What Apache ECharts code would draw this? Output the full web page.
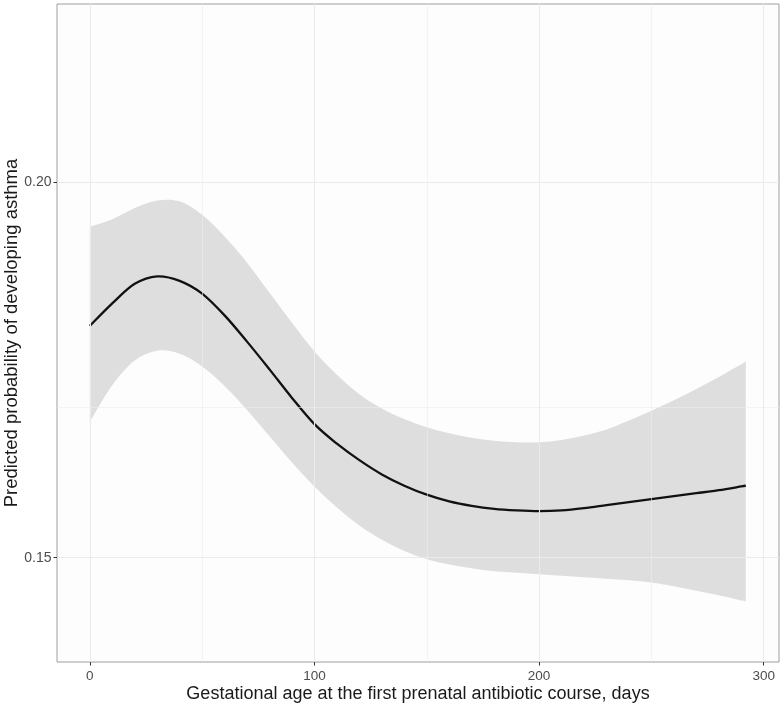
<!DOCTYPE html>
<html>
<head>
<meta charset="utf-8">
<script src="https://cdn.jsdelivr.net/npm/echarts@6/dist/echarts.min.js"></script>
<style>
html,body{margin:0;padding:0;background:#fff;}
#chart{width:784px;height:710px;}
</style>
</head>
<body>
<div id="chart"></div>
<script>
// Gestational age (days)
const xDays = [0,10,20,30,40,50,60,70,80,90,100,110,120,130,140,150,160,170,180,190,200,210,220,230,240,250,260,270,280,290,292];
// Predicted probability (fit)
const fitValues = [0.1809,0.1839,0.1865,0.1875,0.1869,0.1852,0.1823,0.1788,0.1751,0.1713,0.1678,0.1652,0.1630,0.1611,0.1596,0.1584,0.1575,0.1569,0.1565,0.1563,0.1562,0.1563,0.1566,0.1570,0.1574,0.1578,0.1582,0.1586,0.1590,0.1595,0.1596];
// Upper confidence bound
const upperValues = [0.1941,0.1951,0.1966,0.1976,0.1975,0.1957,0.1928,0.1893,0.1853,0.1813,0.1775,0.1744,0.1718,0.1699,0.1685,0.1674,0.1666,0.1660,0.1656,0.1654,0.1654,0.1657,0.1663,0.1671,0.1683,0.1696,0.1710,0.1725,0.1741,0.1758,0.1762];
// Lower confidence bound
const lowerValues = [0.1681,0.1730,0.1763,0.1776,0.1772,0.1755,0.1729,0.1697,0.1662,0.1627,0.1595,0.1567,0.1543,0.1524,0.1509,0.1498,0.1491,0.1486,0.1482,0.1480,0.1478,0.1476,0.1474,0.1472,0.1470,0.1467,0.1462,0.1456,0.1450,0.1443,0.1442];
// Tick labels
const xTicks = [0,100,200,300];
const yTicks = [0.15,0.20];
const xGridMajor = [0,100,200,300];
const xGridMinor = [50,150,250];
const yGridMajor = [0.15,0.20];
const yGridMinor = [0.175];

const FONT = 'Liberation Sans, Arial, sans-serif';

const gridLines = [];
xGridMinor.forEach(v=>gridLines.push({xAxis:v, lineStyle:{color:'#ececec', width:0.6, type:'solid'}}));
yGridMinor.forEach(v=>gridLines.push({yAxis:v, lineStyle:{color:'#ececec', width:0.6, type:'solid'}}));
xGridMajor.forEach(v=>gridLines.push({xAxis:v, lineStyle:{color:'#ebebeb', width:1.1, type:'solid'}}));
yGridMajor.forEach(v=>gridLines.push({yAxis:v, lineStyle:{color:'#ebebeb', width:1.1, type:'solid'}}));

// Catmull-Rom spline through screen points -> cubic bezier path segments
function splinePath(pts){
  let d = '';
  for(let i=0;i<pts.length-1;i++){
    const p0 = pts[Math.max(i-1,0)], p1 = pts[i], p2 = pts[i+1], p3 = pts[Math.min(i+2,pts.length-1)];
    const c1x = p1[0] + (p2[0]-p0[0])/6, c1y = p1[1] + (p2[1]-p0[1])/6;
    const c2x = p2[0] - (p3[0]-p1[0])/6, c2y = p2[1] - (p3[1]-p1[1])/6;
    d += ' C' + c1x.toFixed(2)+','+c1y.toFixed(2)+' '+c2x.toFixed(2)+','+c2y.toFixed(2)+' '+p2[0].toFixed(2)+','+p2[1].toFixed(2);
  }
  return d;
}
function mv(p){ return 'M'+p[0].toFixed(2)+','+p[1].toFixed(2); }

const chart = echarts.init(document.getElementById('chart'), null, {renderer:'canvas'});
chart.setOption({
  animation:false,
  backgroundColor:'#ffffff',
  grid:{left:57, top:4, right:5, bottom:48, show:true, borderColor:'#9e9e9e', borderWidth:1,
        backgroundColor:'#fdfdfd', containLabel:false, outerBoundsMode:'none'},
  xAxis:{
    type:'value', min:-14.6, max:306.8,
    name:'Gestational age at the first prenatal antibiotic course, days',
    nameLocation:'middle', nameGap:23, nameMoveOverlap:false,
    nameTextStyle:{fontFamily:FONT, fontSize:18, color:'#1a1a1a'},
    axisLine:{show:false, onZero:false},
    axisTick:{show:true, customValues:xTicks, length:3.5, lineStyle:{color:'#333333', width:1}},
    axisLabel:{customValues:xTicks, fontFamily:FONT, fontSize:13.5, color:'#4d4d4d', margin:7},
    splitLine:{show:false}
  },
  yAxis:{
    type:'value', min:0.1361, max:0.2238,
    name:'Predicted probability of developing asthma',
    nameLocation:'middle', nameGap:36, nameRotate:90, nameMoveOverlap:false,
    nameTextStyle:{fontFamily:FONT, fontSize:18.5, color:'#1a1a1a'},
    axisLine:{show:false, onZero:false},
    axisTick:{show:true, customValues:yTicks, length:3.5, lineStyle:{color:'#333333', width:1}},
    axisLabel:{customValues:yTicks, fontFamily:FONT, fontSize:14, color:'#4d4d4d', margin:5.5,
      formatter:v=>v.toFixed(2)},
    splitLine:{show:false}
  },
  series:[
    {
      type:'line', name:'grid', data:[], z:1, silent:true,
      markLine:{silent:true, symbol:'none', label:{show:false}, data:gridLines, animation:false}
    },
    {
      type:'custom', name:'band', coordinateSystem:'cartesian2d', z:2, silent:true,
      data:[[xDays[0], lowerValues[0]]],
      encode:{x:0, y:1},
      renderItem:function(params, api){
        const up = xDays.map((x,i)=>api.coord([x, upperValues[i]]));
        const lo = xDays.map((x,i)=>api.coord([x, lowerValues[i]])).reverse();
        const d = mv(up[0]) + splinePath(up) +
                  ' L'+lo[0][0].toFixed(2)+','+lo[0][1].toFixed(2) + splinePath(lo) + ' Z';
        return {type:'path', shape:{pathData:d}, style:{fill:'rgba(153,153,153,0.3)', stroke:null}};
      }
    },
    {
      type:'custom', name:'fit', coordinateSystem:'cartesian2d', z:3, silent:true,
      data:[[xDays[0], fitValues[0]]],
      encode:{x:0, y:1},
      renderItem:function(params, api){
        const pts = xDays.map((x,i)=>api.coord([x, fitValues[i]]));
        const d = mv(pts[0]) + splinePath(pts);
        return {type:'path', shape:{pathData:d}, style:{fill:null, stroke:'#111111', lineWidth:2.3, lineJoin:'round', lineCap:'butt'}};
      }
    }
  ]
});
</script>
</body>
</html>
